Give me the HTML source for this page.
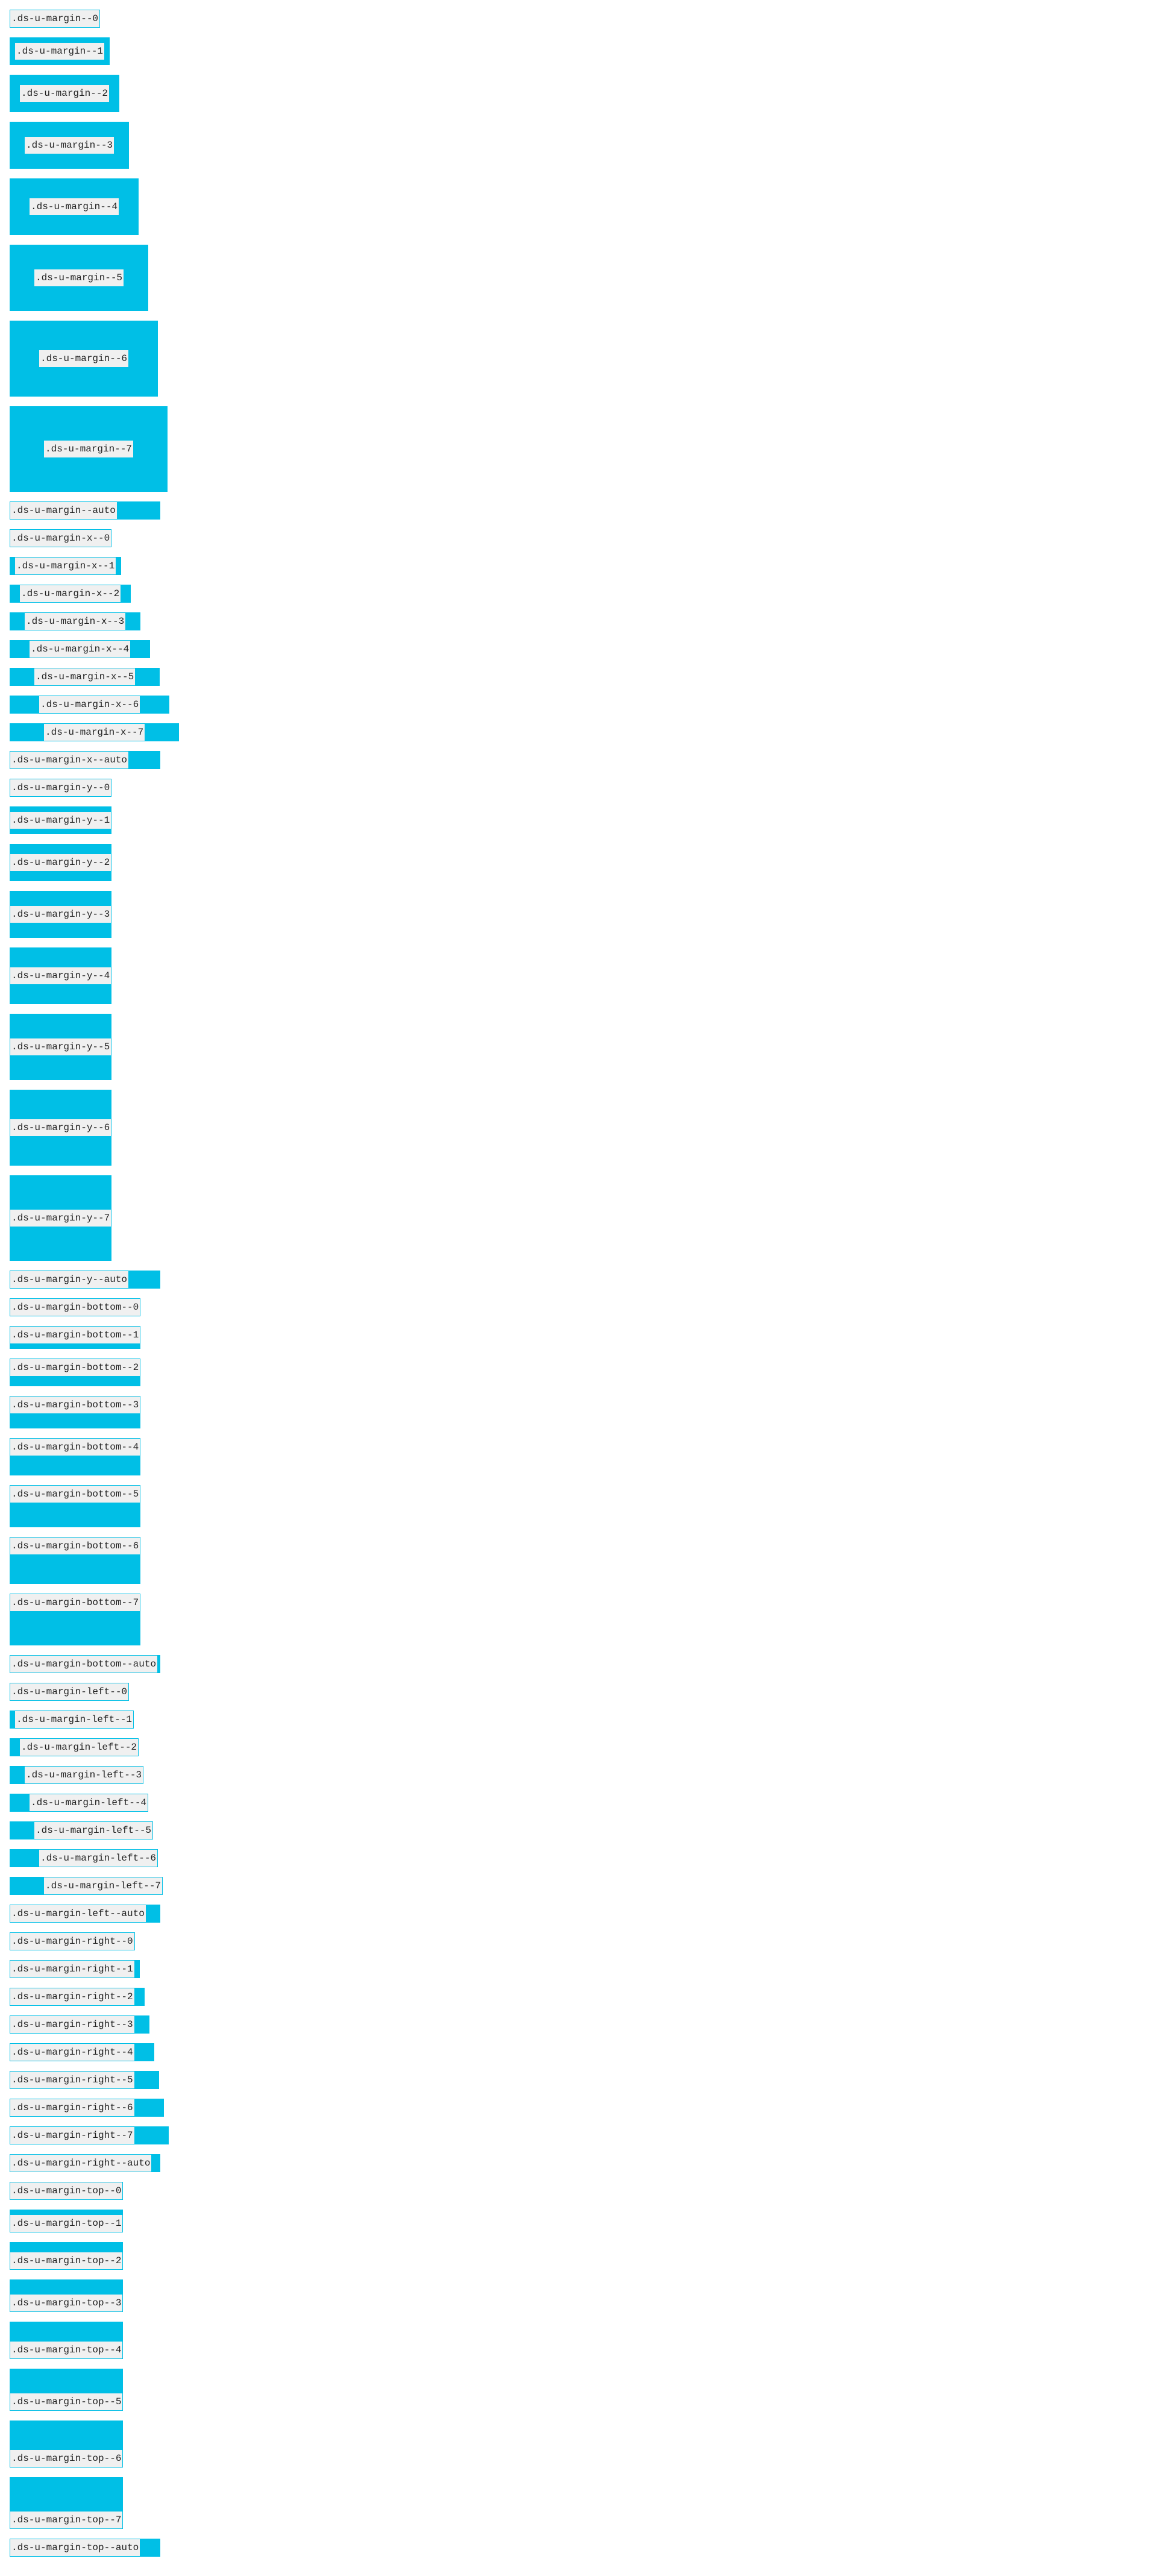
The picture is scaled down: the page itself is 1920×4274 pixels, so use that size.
<!DOCTYPE html>
<html><head><meta charset="utf-8"><style>
html,body{margin:0;padding:0;background:#fff;}
body{padding:16px;height:4274px;box-sizing:border-box;overflow:hidden;}
.wrap{background:#00bfe6;width:fit-content;margin-bottom:16px;}
.wrap.auto{width:250px;}
.box{box-sizing:border-box;height:30px;border:1px solid #00bfe6;background:#f0f0f0;color:#222;
font:16px/26px "Liberation Mono",monospace;padding:1px 2px;white-space:nowrap;width:fit-content;}
</style></head><body>
<div id="list"></div>
<script>
const groups = ["", "x", "y", "bottom", "left", "right", "top"];
const steps = ["0","1","2","3","4","5","6","7","auto"];
const list = document.getElementById('list');
groups.forEach(g => {
  steps.forEach(s => {
    const cls = '.ds-u-margin' + (g ? '-' + g : '') + '--' + s;
    const w = document.createElement('div');
    w.className = 'wrap' + (s === 'auto' ? ' auto' : '');
    
    
    const b = document.createElement('div');
    b.className = 'box';
    b.textContent = cls;
    
    
    if (s !== 'auto') {
      const m = 8 * Number(s);
      const t = (g === '' || g === 'y' || g === 'top') ? m : 0;
      const bo = (g === '' || g === 'y' || g === 'bottom') ? m : 0;
      const l = (g === '' || g === 'x' || g === 'left') ? m : 0;
      const r = (g === '' || g === 'x' || g === 'right') ? m : 0;
      w.style.padding = t + 'px ' + r + 'px ' + bo + 'px ' + l + 'px';
    }
    w.appendChild(b);
    list.appendChild(w);
  });
});
</script>
</body></html>
